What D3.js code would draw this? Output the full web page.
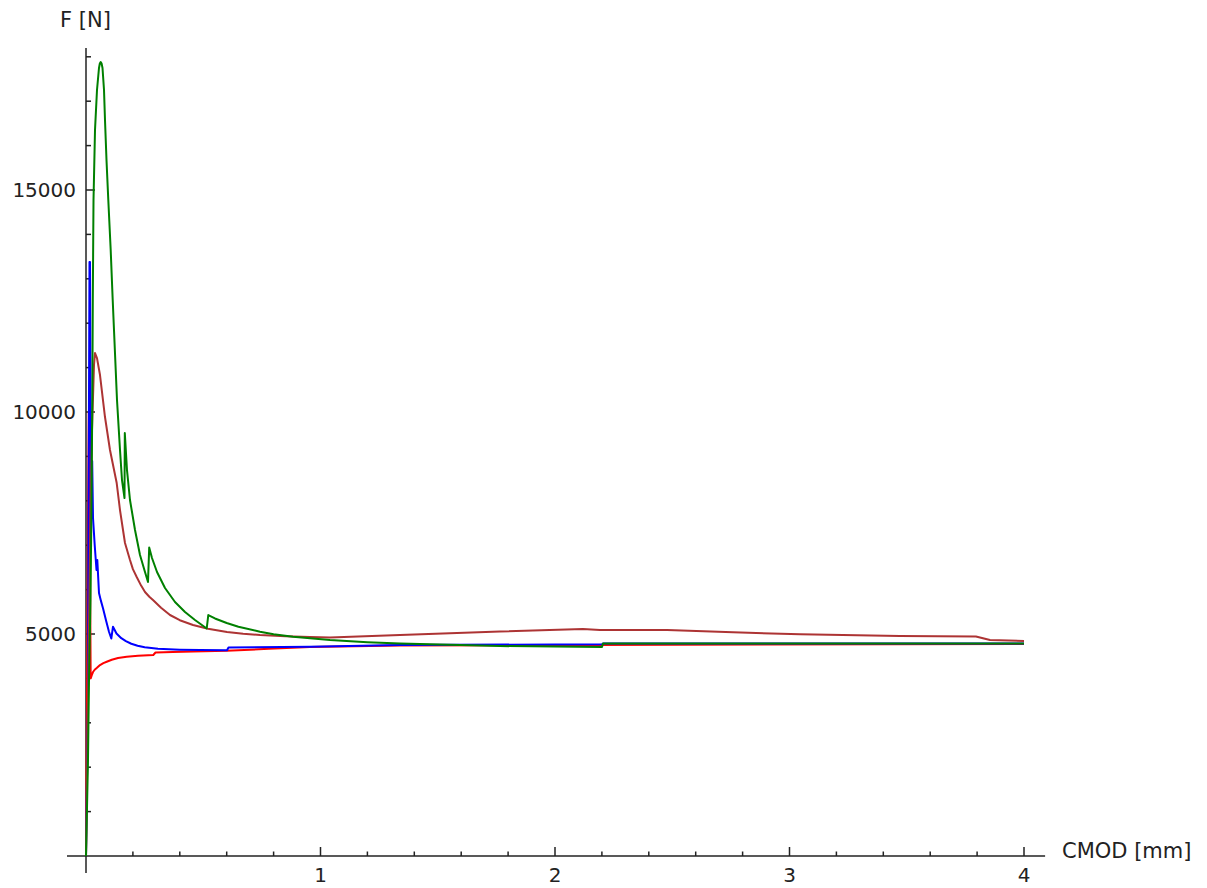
<!DOCTYPE html>
<html>
<head>
<meta charset="utf-8">
<script src="https://cdn.jsdelivr.net/npm/d3@7"></script>
<style>
  html, body { margin: 0; padding: 0; background: #fff; }
  svg { display: block; }
  .tick-label { font: 20px "DejaVu Sans", sans-serif; fill: #222; }
  .axis-label { font: 21px "DejaVu Sans", sans-serif; fill: #222; }
  .curve { fill: none; stroke-width: 2; stroke-linejoin: round; }
</style>
</head>
<body>
<script>
// CMOD [mm] vs F [N]
const redSeries = [
  [0, 0], [0.0043, 3513], [0.0085, 7567], [0.0119, 9999], [0.0149, 9999],
  [0.0179, 5765], [0.0200, 4002], [0.0250, 4080], [0.0299, 4144], [0.0370, 4195],
  [0.0456, 4234], [0.0597, 4301], [0.0740, 4345], [0.0883, 4376], [0.1100, 4420],
  [0.1365, 4459], [0.1736, 4490], [0.2217, 4510], [0.2870, 4527], [0.2964, 4583],
  [0.3700, 4597], [0.4576, 4607], [0.6000, 4621], [0.7800, 4668], [0.9552, 4707],
  [1.339, 4741], [2.5, 4760], [4.0, 4774]
];
const blueSeries = [
  [0, 0], [0.0085, 3513], [0.0119, 9144], [0.0149, 13377], [0.0171, 13377],
  [0.0200, 9819], [0.0235, 7612], [0.0264, 8896], [0.0299, 7612], [0.0371, 7004],
  [0.0448, 6441], [0.0482, 6666], [0.0554, 5923], [0.0640, 5740], [0.0725, 5580],
  [0.0866, 5280], [0.0980, 5050], [0.1079, 4898], [0.1151, 5164], [0.1300, 5010],
  [0.1505, 4905], [0.1700, 4840], [0.1932, 4780], [0.2200, 4735], [0.2503, 4700],
  [0.3070, 4668], [0.4000, 4648], [0.4861, 4639], [0.6013, 4632], [0.6077, 4696],
  [0.9552, 4713], [1.339, 4752], [2.2004, 4768], [2.2047, 4786], [4.0, 4786]
];
const brownSeries = [
  [0, 0], [0.0085, 3513], [0.0171, 6891], [0.0256, 9594], [0.0341, 11058],
  [0.0384, 11328], [0.0469, 11215], [0.0597, 10833], [0.0810, 9887], [0.1023, 9144],
  [0.1309, 8400], [0.1450, 7792], [0.1578, 7342], [0.1663, 7049], [0.1876, 6666],
  [0.2000, 6460], [0.2162, 6283], [0.2350, 6090], [0.2516, 5945], [0.2700, 5840],
  [0.2857, 5765], [0.3200, 5590], [0.3582, 5428], [0.4000, 5310], [0.4563, 5202],
  [0.5200, 5120], [0.6013, 5045], [0.6700, 5005], [0.7420, 4977], [0.8500, 4950],
  [0.9552, 4932], [1.0405, 4921], [1.339, 4977], [1.765, 5056], [2.119, 5112],
  [2.192, 5090], [2.478, 5090], [2.759, 5038], [3.045, 4993], [3.471, 4954],
  [3.795, 4943], [3.855, 4864], [4.0, 4842]
];
const greenSeries = [
  [0, 0], [0.0085, 2162], [0.0128, 3964], [0.0192, 5766], [0.0235, 8018],
  [0.0269, 10270], [0.0290, 12523], [0.0320, 14775], [0.0384, 16351], [0.0469, 17252],
  [0.0554, 17748], [0.0590, 17850], [0.0627, 17883], [0.0665, 17850], [0.0704, 17748],
  [0.0768, 17252], [0.0810, 16577], [0.0874, 15676], [0.0951, 14775], [0.1053, 13649],
  [0.1139, 12523], [0.1194, 11847], [0.1322, 10270], [0.1450, 9144], [0.1535, 8468],
  [0.1642, 8063], [0.1655, 9527], [0.1748, 8693], [0.1876, 8018], [0.2090, 7342],
  [0.2303, 6779], [0.2516, 6396], [0.2644, 6171], [0.2695, 6948], [0.2814, 6711],
  [0.3028, 6396], [0.3369, 6036], [0.3795, 5720], [0.4222, 5495], [0.4648, 5315],
  [0.5147, 5124], [0.5215, 5427], [0.5500, 5350], [0.6000, 5247], [0.6500, 5165],
  [0.7420, 5051], [0.8000, 4995], [0.8827, 4939], [1.0405, 4864], [1.200, 4815],
  [1.339, 4786], [1.765, 4729], [2.2004, 4707], [2.2047, 4786], [4.0, 4786]
];
const xTicks = [1, 2, 3, 4];
const yTicks = [5000, 10000, 15000];
const xLabel = "CMOD [mm]";
const yLabel = "F [N]";

const width = 1207, height = 888;
const svg = d3.select("body").append("svg")
    .attr("width", width)
    .attr("height", height);

const x = d3.scaleLinear().domain([0, 4]).range([86, 1024]);
const y = d3.scaleLinear().domain([0, 15000]).range([856, 190]);

// axes crossing at the origin
const axisG = svg.append("g").attr("stroke", "#222").attr("stroke-width", 1.5);
axisG.append("line")
    .attr("x1", x(-0.081)).attr("x2", x(4.09))
    .attr("y1", y(0)).attr("y2", y(0));
axisG.append("line")
    .attr("x1", x(0)).attr("x2", x(0))
    .attr("y1", y(-385)).attr("y2", y(18200));

// minor ticks
const xMinor = d3.range(0.2, 4.01, 0.2).filter(v => Math.abs(v - Math.round(v)) > 1e-6);
const yMinor = d3.range(1000, 18001, 1000).filter(v => v % 5000 !== 0);
axisG.selectAll(".xminor").data(xMinor).enter().append("line")
    .attr("x1", d => x(d)).attr("x2", d => x(d))
    .attr("y1", y(0)).attr("y2", y(0) - 4.5);
axisG.selectAll(".xmajor").data(xTicks).enter().append("line")
    .attr("x1", d => x(d)).attr("x2", d => x(d))
    .attr("y1", y(0)).attr("y2", y(0) - 9);
axisG.selectAll(".yminor").data(yMinor).enter().append("line")
    .attr("x1", x(0)).attr("x2", x(0) + 5)
    .attr("y1", d => y(d)).attr("y2", d => y(d));
axisG.selectAll(".ymajor").data(yTicks).enter().append("line")
    .attr("x1", x(0)).attr("x2", x(0) + 9)
    .attr("y1", d => y(d)).attr("y2", d => y(d));

// tick labels
svg.selectAll(".xt").data(xTicks).enter().append("text")
    .attr("class", "tick-label")
    .attr("x", d => x(d))
    .attr("y", y(0) + 26)
    .attr("text-anchor", "middle")
    .text(d => d);
svg.selectAll(".yt").data(yTicks).enter().append("text")
    .attr("class", "tick-label")
    .attr("x", x(0) - 10)
    .attr("y", d => y(d))
    .attr("dy", "0.36em")
    .attr("text-anchor", "end")
    .text(d => d);

// axis labels
svg.append("text").attr("class", "axis-label")
    .attr("x", 60).attr("y", 26.5)
    .text(yLabel);
svg.append("text").attr("class", "axis-label")
    .attr("x", 1062).attr("y", 858)
    .text(xLabel);

// curves (red under blue, green on top)
const line = d3.line().x(d => x(d[0])).y(d => y(d[1]));
const series = [
    { data: redSeries, color: "#ff0000" },
    { data: blueSeries, color: "#0000ff" },
    { data: brownSeries, color: "#ad3434" },
    { data: greenSeries, color: "#008000" }
];
svg.selectAll(".curve").data(series).enter().append("path")
    .attr("class", "curve")
    .attr("stroke", d => d.color)
    .attr("d", d => line(d.data));
</script>
</body>
</html>
